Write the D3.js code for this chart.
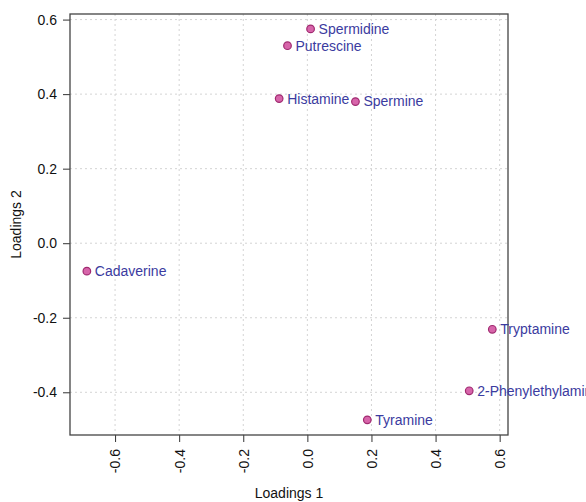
<!DOCTYPE html>
<html>
<head>
<meta charset="utf-8">
<script src="https://cdn.jsdelivr.net/npm/d3@7"></script>
<style>
  body { margin: 0; background: #fff; }
  svg { display: block; font-family: "Liberation Sans", Arial, sans-serif; }
</style>
</head>
<body>
<svg id="chart" width="586" height="502"></svg>
<script>
// loadings
const amines = ["Spermidine", "Putrescine", "Histamine", "Spermine", "Cadaverine",
  "Tryptamine", "2-Phenylethylamine", "Tyramine"];
const load1 = [0.010, -0.062, -0.088, 0.150, -0.688, 0.577, 0.505, 0.187];
const load2 = [0.575, 0.530, 0.388, 0.380, -0.075, -0.231, -0.396, -0.474];
const xTicks = [-0.6, -0.4, -0.2, 0.0, 0.2, 0.4, 0.6];
const yTicks = [-0.4, -0.2, 0.0, 0.2, 0.4, 0.6];

const svg = d3.select('#chart');
// plot box
const box = { left: 70, right: 508, top: 14, bottom: 435 };

const x = d3.scaleLinear().domain([-0.7406, 0.626]).range([box.left, box.right]);
const y = d3.scaleLinear().domain([-0.5146, 0.615]).range([box.bottom, box.top]);

// grid (dotted)
const grid = svg.append('g').attr('stroke', '#d4d4d4').attr('stroke-dasharray', '2,3');
grid.selectAll('.gx').data(xTicks).enter().append('line')
  .attr('x1', d => x(d)).attr('x2', d => x(d))
  .attr('y1', box.top).attr('y2', box.bottom);
grid.selectAll('.gy').data(yTicks).enter().append('line')
  .attr('y1', d => y(d)).attr('y2', d => y(d))
  .attr('x1', box.left).attr('x2', box.right);

// axes, plain hyphen for minus like R
const fmt = d => d.toFixed(1);
const xAxis = svg.append('g')
  .attr('transform', `translate(0, ${box.bottom})`)
  .call(d3.axisBottom(x).tickValues(xTicks).tickSize(7).tickSizeOuter(0).tickFormat(fmt));
xAxis.select('.domain').remove();
xAxis.selectAll('line').attr('stroke', '#333');
xAxis.selectAll('text')
  .attr('font-size', 14).attr('fill', '#111')
  .attr('transform', 'rotate(-90)')
  .attr('text-anchor', 'end')
  .attr('x', -14).attr('y', 0).attr('dy', '0.35em');

const yAxis = svg.append('g')
  .attr('transform', `translate(${box.left}, 0)`)
  .call(d3.axisLeft(y).tickValues(yTicks).tickSize(7).tickSizeOuter(0).tickFormat(fmt));
yAxis.select('.domain').remove();
yAxis.selectAll('line').attr('stroke', '#333');
yAxis.selectAll('text').attr('font-size', 14).attr('fill', '#111').attr('x', -13);

// box
svg.append('rect')
  .attr('x', box.left).attr('y', box.top)
  .attr('width', box.right - box.left).attr('height', box.bottom - box.top)
  .attr('fill', 'none').attr('stroke', '#444').attr('stroke-width', 1.3);

// axis titles
svg.append('text')
  .attr('x', (box.left + box.right) / 2).attr('y', 498)
  .attr('text-anchor', 'middle').attr('font-size', 14).attr('fill', '#111')
  .text('Loadings 1');
svg.append('text')
  .attr('transform', `translate(21, ${(box.top + box.bottom) / 2}) rotate(-90)`)
  .attr('text-anchor', 'middle').attr('font-size', 14).attr('fill', '#111')
  .text('Loadings 2');

// points + labels
const pts = amines.map((name, i) => ({ name, l1: load1[i], l2: load2[i] }));
svg.append('g').selectAll('circle').data(pts).enter().append('circle')
  .attr('cx', d => x(d.l1)).attr('cy', d => y(d.l2)).attr('r', 3.8)
  .attr('fill', '#d765aa').attr('stroke', '#a02a70').attr('stroke-width', 1.2);
svg.append('g').selectAll('text').data(pts).enter().append('text')
  .attr('x', d => x(d.l1) + 8).attr('y', d => y(d.l2))
  .attr('dy', '0.35em').attr('font-size', 14).attr('fill', '#3b3ba0')
  .text(d => d.name);
</script>
</body>
</html>
